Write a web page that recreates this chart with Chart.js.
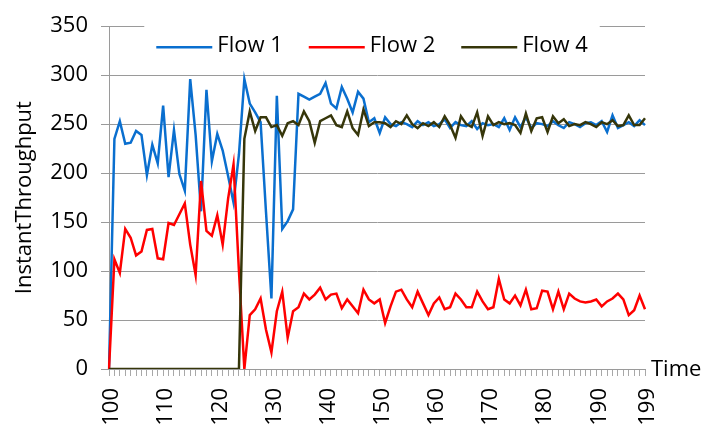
<!DOCTYPE html>
<html>
<head>
<meta charset="utf-8">
<script src="https://cdn.jsdelivr.net/npm/chart.js@4.4.1/dist/chart.umd.min.js"></script>
<style>
  html, body { margin: 0; padding: 0; background: #fff; }
  #wrap { position: relative; width: 704px; height: 427px; }
</style>
</head>
<body>
<div id="wrap"><canvas id="chart"></canvas></div>
<script>
// ── DATA ─────────────────────────────────────────────────────────────
var times = [];
for (var t = 100; t <= 199; t++) times.push(String(t));
var xTickLabels = ['100', '110', '120', '130', '140', '150', '160', '170', '180', '190', '199'];
var yTicks = [0, 50, 100, 150, 200, 250, 300, 350];

var flow1 = [
  0, 235, 253, 230, 231, 243, 239, 198, 229, 210,
  269, 196, 244, 199, 182, 296, 239, 161, 285, 212,
  240, 223, 197, 170, 219, 296, 271, 262, 252, 160,
  72, 279, 143, 151, 163, 281, 278, 275, 278, 281,
  292, 271, 266, 288, 276, 262, 283, 276, 252, 256,
  241, 257, 250, 248, 252, 250, 247, 253, 249, 252,
  248, 250, 255, 246, 252, 249, 248, 253, 245, 251,
  249, 250, 247, 256, 244, 257, 247, 257, 246, 251,
  250, 248, 253, 249, 246, 252, 250, 247, 251, 252,
  249, 253, 242, 259, 246, 249, 252, 248, 254, 249
];
var flow2 = [
  0, 112, 98, 143, 134, 116, 120, 142, 143, 113,
  112, 149, 147, 158, 169, 127, 96, 192, 141, 136,
  157, 127, 174, 209, 100, 0, 55, 61, 72, 40,
  17, 59, 79, 32, 59, 63, 77, 71, 76, 83,
  71, 76, 77, 62, 71, 64, 57, 81, 71, 67,
  71, 47, 64, 79, 81, 71, 63, 79, 67, 55,
  67, 73, 61, 63, 77, 71, 63, 63, 79, 69,
  61, 63, 92, 71, 67, 75, 65, 81, 61, 62,
  80, 79, 61, 79, 61, 77, 72, 69, 68, 69,
  71, 64, 69, 72, 77, 71, 55, 60, 75, 61
];
var flow4 = [
  0, 0, 0, 0, 0, 0, 0, 0, 0, 0,
  0, 0, 0, 0, 0, 0, 0, 0, 0, 0,
  0, 0, 0, 0, 0, 235, 263, 243, 257, 257,
  247, 249, 238, 251, 253, 249, 263, 253, 231, 253,
  256, 259, 249, 247, 263, 246, 239, 265, 248, 252,
  252, 251, 247, 253, 250, 259, 250, 246, 251, 248,
  252, 247, 258, 249, 236, 258, 250, 247, 262, 238,
  258, 249, 252, 250, 251, 249, 241, 261, 243, 256,
  257, 242, 258, 251, 255, 248, 250, 249, 252, 250,
  247, 252, 250, 254, 248, 249, 259, 249, 249, 256
];

// ── STYLE ────────────────────────────────────────────────────────────
var FONT = 'Open Sans';
var gridColor = '#9a9a9a';
var tickColor = '#a8a8a8';

// Legend box in the plot + "Time" caption at the right end of the x axis
var overlayPlugin = {
  id: 'overlay',
  afterDraw: function(chart) {
    var ctx = chart.ctx;
    var area = chart.chartArea;
    ctx.save();
    ctx.font = '22px "' + FONT + '"';
    ctx.textBaseline = 'middle';

    var lineLen = 56, gap = 5, spacing = 26, pad = 12;
    var sets = chart.data.datasets;
    var total = 0;
    sets.forEach(function(ds, i) {
      total += lineLen + gap + ctx.measureText(ds.label).width;
      if (i < sets.length - 1) total += spacing;
    });
    var cx = (area.left + area.right) / 2 - 5;
    var x = cx - total / 2;
    var y = area.top + 20;

    ctx.fillStyle = '#fff';
    ctx.fillRect(x - pad, area.top - 8, total + pad * 2, 52);

    sets.forEach(function(ds) {
      ctx.strokeStyle = ds.borderColor;
      ctx.lineWidth = 2.5;
      ctx.beginPath();
      ctx.moveTo(x, y + 1);
      ctx.lineTo(x + lineLen, y + 1);
      ctx.stroke();
      x += lineLen + gap;
      ctx.fillStyle = '#000';
      ctx.fillText(ds.label, x, y);
      x += ctx.measureText(ds.label).width + spacing;
    });

    ctx.fillStyle = '#000';
    ctx.textAlign = 'left';
    ctx.fillText('Time', area.right + 6, area.bottom + 1);
    ctx.restore();
  }
};

new Chart(document.getElementById('chart'), {
  type: 'line',
  data: {
    labels: times,
    datasets: [
      { label: 'Flow 1', data: flow1, borderColor: '#0a6fcf', order: 3 },
      { label: 'Flow 2', data: flow2, borderColor: '#ff0000', order: 2 },
      { label: 'Flow 4', data: flow4, borderColor: '#36360a', order: 1 }
    ]
  },
  options: {
    responsive: true,
    maintainAspectRatio: false,
    animation: false,
    layout: { padding: { top: 19, right: 59, bottom: 0, left: 0 } },
    elements: {
      line: { borderWidth: 2.5, tension: 0, fill: false },
      point: { radius: 0, hoverRadius: 0 }
    },
    plugins: {
      legend: { display: false },
      tooltip: { enabled: false }
    },
    scales: {
      x: {
        offset: false,
        afterFit: function(scale) { scale.height = 58; },
        ticks: {
          autoSkip: false,
          maxRotation: 90,
          minRotation: 90,
          padding: 12,
          labelOffset: 3,
          color: '#000',
          font: { family: FONT, size: 22 },
          callback: function(val, idx) {
            var lbl = times[idx];
            return xTickLabels.indexOf(lbl) >= 0 ? lbl : '';
          }
        },
        grid: {
          drawOnChartArea: false,
          drawTicks: true,
          tickLength: 7,
          color: tickColor
        },
        border: { color: gridColor, width: 1 }
      },
      y: {
        min: 0,
        max: 350,
        afterFit: function(scale) { scale.width = 109; },
        afterBuildTicks: function(scale) {
          scale.ticks = yTicks.map(function(v) { return { value: v }; });
        },
        ticks: {
          padding: 13,
          color: '#000',
          font: { family: FONT, size: 22 }
        },
        title: {
          display: true,
          text: 'InstantThroughput',
          color: '#000',
          font: { family: FONT, size: 22 },
          padding: { top: 12, bottom: 0 }
        },
        grid: {
          color: gridColor,
          tickLength: 8
        },
        border: { color: gridColor, width: 1 }
      }
    }
  },
  plugins: [overlayPlugin]
});
</script>
</body>
</html>
